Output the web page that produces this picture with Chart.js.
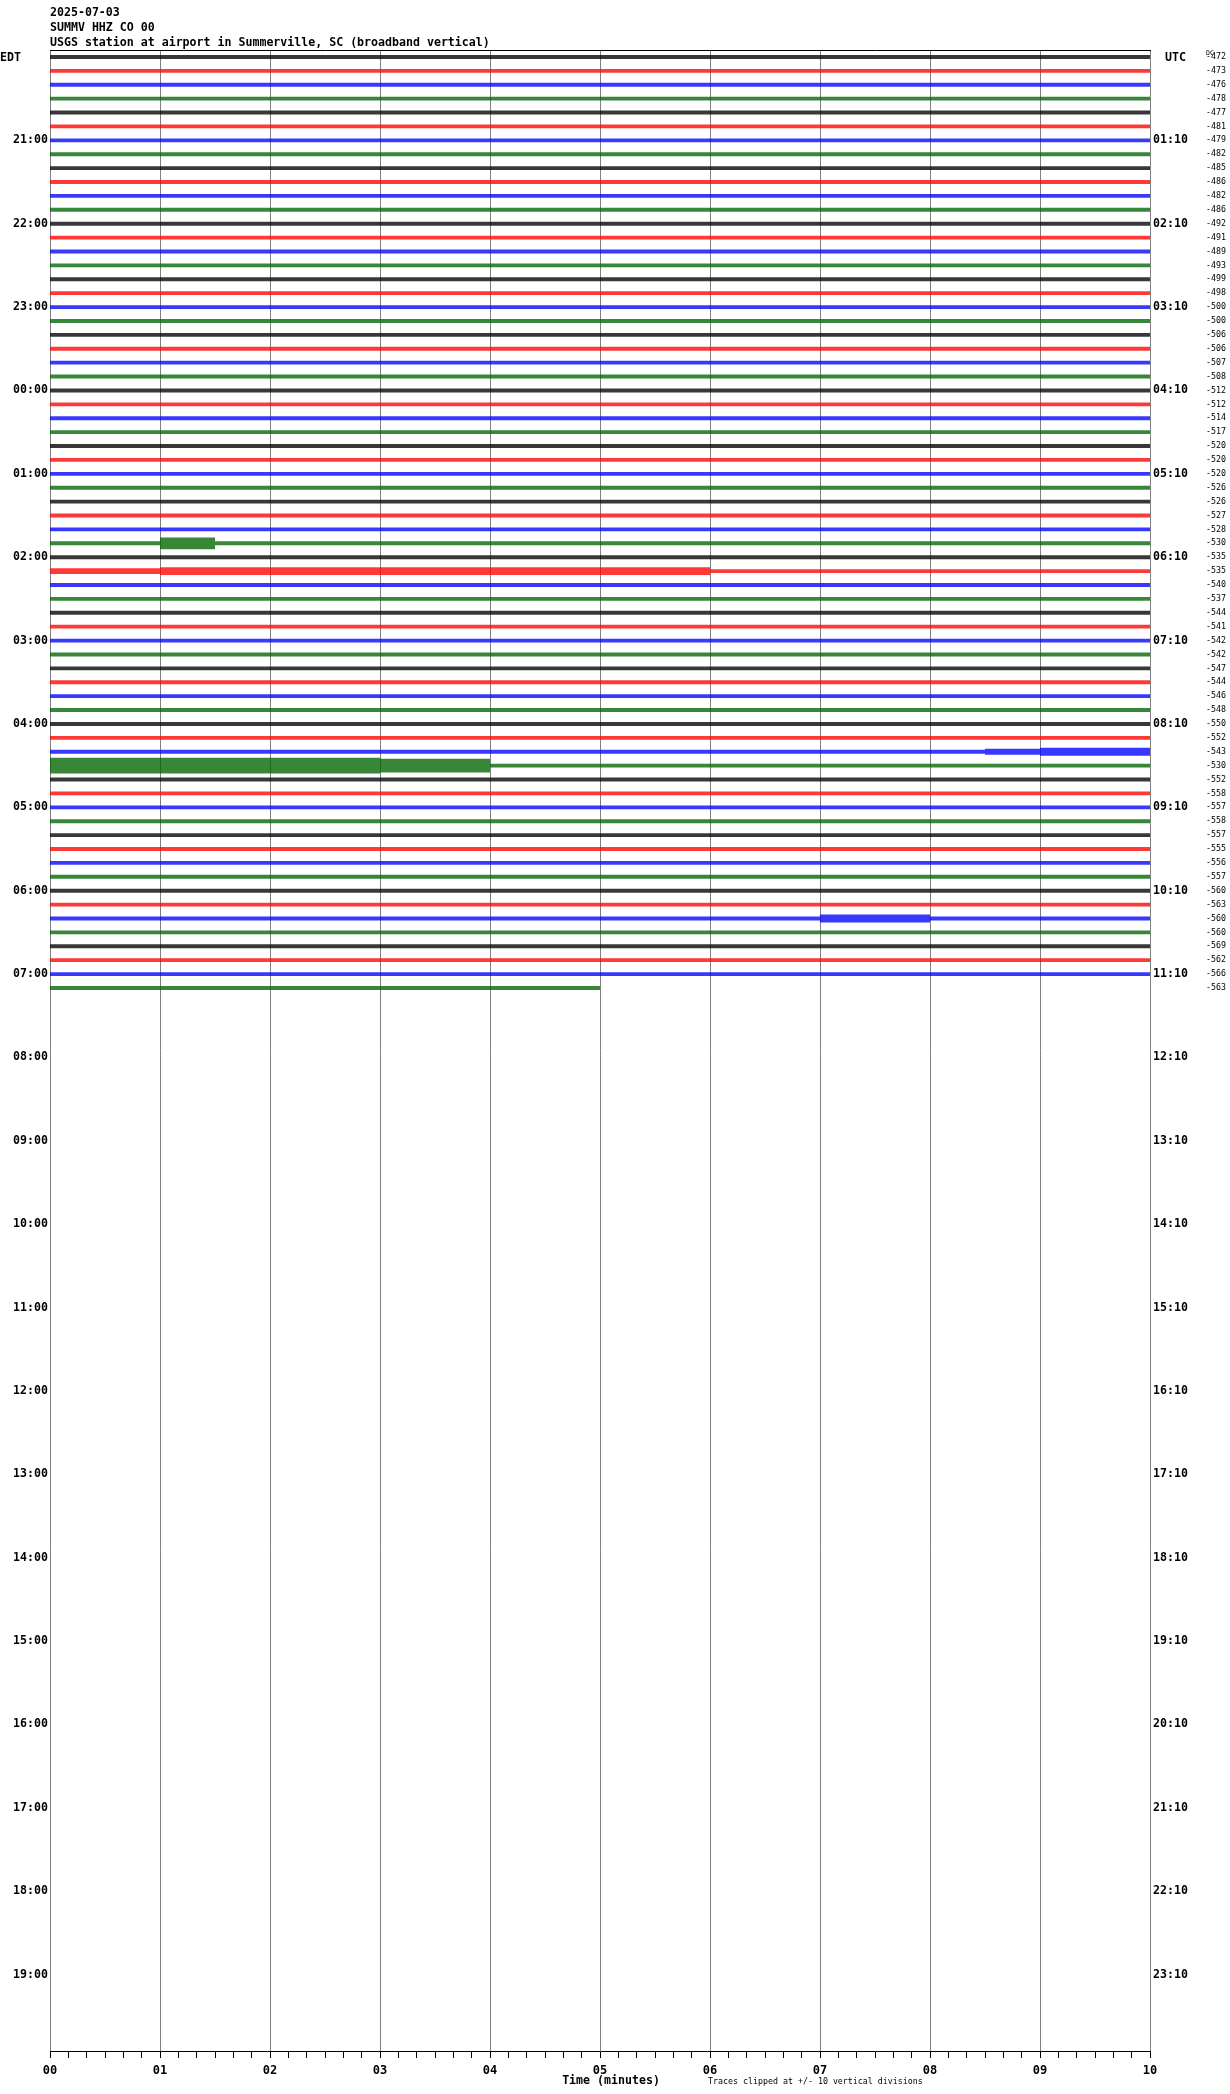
<!DOCTYPE html>
<html><head><meta charset="utf-8">
<script src="https://cdn.jsdelivr.net/npm/chart.js@4/dist/chart.umd.min.js"></script>
<style>html,body{margin:0;padding:0;background:#fff}canvas{display:block}</style>
</head><body>
<canvas id="c" width="1230" height="2094"></canvas>
<script>
const titleLines = ["2025-07-03", "SUMMV HHZ CO 00", "USGS station at airport in Summerville, SC (broadband vertical)"];
const minuteLabels = ["00","01","02","03","04","05","06","07","08","09","10"];
const edtLabels = ["EDT","21:00","22:00","23:00","00:00","01:00","02:00","03:00","04:00","05:00","06:00","07:00",
  "08:00","09:00","10:00","11:00","12:00","13:00","14:00","15:00","16:00","17:00","18:00","19:00"];
const utcLabels = ["UTC","01:10","02:10","03:10","04:10","05:10","06:10","07:10","08:10","09:10","10:10","11:10",
  "12:10","13:10","14:10","15:10","16:10","17:10","18:10","19:10","20:10","21:10","22:10","23:10"];
const dcHeader = "DC";
const dcValues = [-472,-473,-476,-478,-477,-481,-479,-482,-485,-486,-482,-486,-492,-491,-489,-493,-499,-498,-500,-500,
  -506,-506,-507,-508,-512,-512,-514,-517,-520,-520,-520,-526,-526,-527,
  -528,-530,-535,-535,-540,-537,-544,-541,-542,-542,-547,-544,-546,-548,-550,-552,-543,-530,-552,-558,-557,-558,
  -557,-555,-556,-557,-560,-563,-560,-560,-569,-562,-566,-563];
const traceColors = ["#000000","#ff0000","#0000ff","#006400"];
const bottomNote = "Traces clipped at +/- 10 vertical divisions";
const axisTitle = "Time (minutes)";
// trace amplitude envelope, one value per 30 s block (0..10 min), one row per 10-minute trace
const ampRows = [
[2,2,2,2,2,2,2,2,2,2,2,2,2,2,2,2,2,2,2,2,2],
[2,2,2,2,2,2,2,2,2,2,2,2,2,2,2,2,2,2,2,2,2],
[2,2,2,2,2,2,2,2,2,2,2,2,2,2,2,2,2,2,2,2,2],
[2,2,2,2,2,2,2,2,2,2,2,2,2,2,2,2,2,2,2,2,2],
[2,2,2,2,2,2,2,2,2,2,2,2,2,2,2,2,2,2,2,2,2],
[2,2,2,2,2,2,2,2,2,2,2,2,2,2,2,2,2,2,2,2,2],
[2,2,2,2,2,2,2,2,2,2,2,2,2,2,2,2,2,2,2,2,2],
[2,2,2,2,2,2,2,2,2,2,2,2,2,2,2,2,2,2,2,2,2],
[2,2,2,2,2,2,2,2,2,2,2,2,2,2,2,2,2,2,2,2,2],
[2,2,2,2,2,2,2,2,2,2,2,2,2,2,2,2,2,2,2,2,2],
[2,2,2,2,2,2,2,2,2,2,2,2,2,2,2,2,2,2,2,2,2],
[2,2,2,2,2,2,2,2,2,2,2,2,2,2,2,2,2,2,2,2,2],
[2,2,2,2,2,2,2,2,2,2,2,2,2,2,2,2,2,2,2,2,2],
[2,2,2,2,2,2,2,2,2,2,2,2,2,2,2,2,2,2,2,2,2],
[2,2,2,2,2,2,2,2,2,2,2,2,2,2,2,2,2,2,2,2,2],
[2,2,2,2,2,2,2,2,2,2,2,2,2,2,2,2,2,2,2,2,2],
[2,2,2,2,2,2,2,2,2,2,2,2,2,2,2,2,2,2,2,2,2],
[2,2,2,2,2,2,2,2,2,2,2,2,2,2,2,2,2,2,2,2,2],
[2,2,2,2,2,2,2,2,2,2,2,2,2,2,2,2,2,2,2,2,2],
[2,2,2,2,2,2,2,2,2,2,2,2,2,2,2,2,2,2,2,2,2],
[2,2,2,2,2,2,2,2,2,2,2,2,2,2,2,2,2,2,2,2,2],
[2,2,2,2,2,2,2,2,2,2,2,2,2,2,2,2,2,2,2,2,2],
[2,2,2,2,2,2,2,2,2,2,2,2,2,2,2,2,2,2,2,2,2],
[2,2,2,2,2,2,2,2,2,2,2,2,2,2,2,2,2,2,2,2,2],
[2,2,2,2,2,2,2,2,2,2,2,2,2,2,2,2,2,2,2,2,2],
[2,2,2,2,2,2,2,2,2,2,2,2,2,2,2,2,2,2,2,2,2],
[2,2,2,2,2,2,2,2,2,2,2,2,2,2,2,2,2,2,2,2,2],
[2,2,2,2,2,2,2,2,2,2,2,2,2,2,2,2,2,2,2,2,2],
[2,2,2,2,2,2,2,2,2,2,2,2,2,2,2,2,2,2,2,2,2],
[2,2,2,2,2,2,2,2,2,2,2,2,2,2,2,2,2,2,2,2,2],
[2,2,2,2,2,2,2,2,2,2,2,2,2,2,2,2,2,2,2,2,2],
[2,2,2,2,2,2,2,2,2,2,2,2,2,2,2,2,2,2,2,2,2],
[2,2,2,2,2,2,2,2,2,2,2,2,2,2,2,2,2,2,2,2,2],
[2,2,2,2,2,2,2,2,2,2,2,2,2,2,2,2,2,2,2,2,2],
[2,2,2,2,2,2,2,2,2,2,2,2,2,2,2,2,2,2,2,2,2],
[2,2,6,2,2,2,2,2,2,2,2,2,2,2,2,2,2,2,2,2,2],
[2,2,2,2,2,2,2,2,2,2,2,2,2,2,2,2,2,2,2,2,2],
[3,3,4,4,4,4,4,4,4,4,4,4,2,2,2,2,2,2,2,2,2],
[2,2,2,2,2,2,2,2,2,2,2,2,2,2,2,2,2,2,2,2,2],
[2,2,2,2,2,2,2,2,2,2,2,2,2,2,2,2,2,2,2,2,2],
[2,2,2,2,2,2,2,2,2,2,2,2,2,2,2,2,2,2,2,2,2],
[2,2,2,2,2,2,2,2,2,2,2,2,2,2,2,2,2,2,2,2,2],
[2,2,2,2,2,2,2,2,2,2,2,2,2,2,2,2,2,2,2,2,2],
[2,2,2,2,2,2,2,2,2,2,2,2,2,2,2,2,2,2,2,2,2],
[2,2,2,2,2,2,2,2,2,2,2,2,2,2,2,2,2,2,2,2,2],
[2,2,2,2,2,2,2,2,2,2,2,2,2,2,2,2,2,2,2,2,2],
[2,2,2,2,2,2,2,2,2,2,2,2,2,2,2,2,2,2,2,2,2],
[2,2,2,2,2,2,2,2,2,2,2,2,2,2,2,2,2,2,2,2,2],
[2,2,2,2,2,2,2,2,2,2,2,2,2,2,2,2,2,2,2,2,2],
[2,2,2,2,2,2,2,2,2,2,2,2,2,2,2,2,2,2,2,2,2],
[2,2,2,2,2,2,2,2,2,2,2,2,2,2,2,2,2,3,4,4,4],
[8,8,8,8,8,8,7,7,2,2,2,2,2,2,2,2,2,2,2,2,2],
[2,2,2,2,2,2,2,2,2,2,2,2,2,2,2,2,2,2,2,2,2],
[2,2,2,2,2,2,2,2,2,2,2,2,2,2,2,2,2,2,2,2,2],
[2,2,2,2,2,2,2,2,2,2,2,2,2,2,2,2,2,2,2,2,2],
[2,2,2,2,2,2,2,2,2,2,2,2,2,2,2,2,2,2,2,2,2],
[2,2,2,2,2,2,2,2,2,2,2,2,2,2,2,2,2,2,2,2,2],
[2,2,2,2,2,2,2,2,2,2,2,2,2,2,2,2,2,2,2,2,2],
[2,2,2,2,2,2,2,2,2,2,2,2,2,2,2,2,2,2,2,2,2],
[2,2,2,2,2,2,2,2,2,2,2,2,2,2,2,2,2,2,2,2,2],
[2,2,2,2,2,2,2,2,2,2,2,2,2,2,2,2,2,2,2,2,2],
[2,2,2,2,2,2,2,2,2,2,2,2,2,2,2,2,2,2,2,2,2],
[2,2,2,2,2,2,2,2,2,2,2,2,2,2,4,4,2,2,2,2,2],
[2,2,2,2,2,2,2,2,2,2,2,2,2,2,2,2,2,2,2,2,2],
[2,2,2,2,2,2,2,2,2,2,2,2,2,2,2,2,2,2,2,2,2],
[2,2,2,2,2,2,2,2,2,2,2,2,2,2,2,2,2,2,2,2,2],
[2,2,2,2,2,2,2,2,2,2,2,2,2,2,2,2,2,2,2,2,2],
[2,2,2,2,2,2,2,2,2,2,2]
];
const SAMPLE_SEC = 30;
const ROWS_PER_HOUR = 6;
const TOTAL_ROWS = 144;
const AMP_GAIN = 0.07;
const FILL_ALPHA = 0.78;

function rgba(hex, a) {
  const n = parseInt(hex.slice(1), 16);
  return `rgba(${(n >> 16) & 255},${(n >> 8) & 255},${n & 255},${a})`;
}

const datasets = [];
ampRows.forEach((row, r) => {
  const color = traceColors[r % traceColors.length];
  datasets.push({
    data: row.map((a, i) => ({ x: i * SAMPLE_SEC, y: r - a * AMP_GAIN })),
    borderColor: 'rgba(0,0,0,0)', backgroundColor: 'rgba(0,0,0,0)', fill: false, stepped: 'before'
  });
  datasets.push({
    data: row.map((a, i) => ({ x: i * SAMPLE_SEC, y: r + a * AMP_GAIN })),
    borderColor: 'rgba(0,0,0,0)', backgroundColor: rgba(color, FILL_ALPHA), fill: '-1', stepped: 'before'
  });
});

const MONO = '"DejaVu Sans Mono", "Liberation Mono", monospace';

const textPlugin = {
  id: 'heliText',
  afterDraw(chart) {
    const { ctx, chartArea: a, scales } = chart;
    ctx.save();
    ctx.fillStyle = '#000';
    ctx.textBaseline = 'middle';
    ctx.textAlign = 'left';
    ctx.font = 'bold 11.6px ' + MONO;
    titleLines.forEach((t, i) => ctx.fillText(t, a.left, a.top - 37.5 + i * 15));
    const y0 = scales.y.getPixelForValue(0);
    ctx.fillText(edtLabels[0], 0, y0 + 1);
    ctx.fillText(utcLabels[0], a.right + 15, y0 + 1);
    ctx.textAlign = 'center';
    ctx.fillText(axisTitle, (a.left + a.right) / 2 + 11, a.bottom + 30);
    ctx.textAlign = 'left';
    ctx.font = '8.3px ' + MONO;
    ctx.fillText(bottomNote, (a.left + a.right) / 2 + 108, a.bottom + 31);
    const dc = scales.yDc;
    ctx.font = '6.5px ' + MONO;
    ctx.fillText(dcHeader, dc.left + 6, a.top + 3);
    ctx.restore();
  }
};

const hiddenGrid = { display: false, drawTicks: false, tickLength: 0 };

new Chart(document.getElementById('c'), {
  type: 'line',
  data: { datasets },
  options: {
    responsive: false,
    animation: false,
    devicePixelRatio: 1,
    layout: { padding: { top: 50, left: 0, right: 0, bottom: 0 } },
    elements: { point: { radius: 0 }, line: { borderWidth: 0, tension: 0 } },
    plugins: { legend: { display: false }, tooltip: { enabled: false }, title: { display: false } },
    scales: {
      x: {
        type: 'linear', position: 'bottom', min: 0, max: 600,
        afterFit(s) { s.height = 43; },
        ticks: {
          stepSize: 10, autoSkip: false, maxRotation: 0, padding: 6, color: '#000',
          font: { family: MONO, size: 12, weight: 'bold' },
          callback: (v) => (v % 60 === 0 ? minuteLabels[v / 60] : '')
        },
        grid: {
          color: (c) => (c.tick && c.tick.value % 60 === 0 ? '#808080' : 'rgba(0,0,0,0)'),
          tickColor: '#000', tickLength: 7, lineWidth: 1
        },
        border: { color: '#000', width: 1 }
      },
      xTop: {
        type: 'linear', position: 'top', min: 0, max: 600,
        afterFit(s) { s.height = 0; },
        ticks: { display: false },
        grid: { drawOnChartArea: false, drawTicks: false, tickLength: 0 },
        border: { color: '#000', width: 1 }
      },
      y: {
        type: 'linear', position: 'left', min: -0.5, max: TOTAL_ROWS - 0.5, reverse: true,
        afterFit(s) { s.width = 50; },
        afterBuildTicks(s) { s.ticks = edtLabels.map((_, i) => ({ value: i * ROWS_PER_HOUR })); },
        ticks: {
          autoSkip: false, padding: 2, color: '#000',
          font: { family: MONO, size: 11.6, weight: 'bold' },
          callback: (v) => { const i = v / ROWS_PER_HOUR; return i === 0 ? '' : edtLabels[i]; }
        },
        grid: hiddenGrid,
        border: { display: false }
      },
      yUtc: {
        type: 'linear', position: 'right', weight: 0, min: -0.5, max: TOTAL_ROWS - 0.5, reverse: true,
        afterFit(s) { s.width = 50; },
        afterBuildTicks(s) { s.ticks = utcLabels.map((_, i) => ({ value: i * ROWS_PER_HOUR })); },
        ticks: {
          autoSkip: false, padding: 3, color: '#000',
          font: { family: MONO, size: 11.6, weight: 'bold' },
          callback: (v) => { const i = v / ROWS_PER_HOUR; return i === 0 ? '' : utcLabels[i]; }
        },
        grid: hiddenGrid,
        border: { display: false }
      },
      yDc: {
        type: 'linear', position: 'right', weight: 1, min: -0.5, max: TOTAL_ROWS - 0.5, reverse: true,
        afterFit(s) { s.width = 30; },
        afterBuildTicks(s) { s.ticks = dcValues.map((_, i) => ({ value: i })); },
        ticks: {
          autoSkip: false, padding: 6, color: '#000',
          font: { family: MONO, size: 8.3 },
          callback: (v) => String(dcValues[v])
        },
        grid: hiddenGrid,
        border: { display: false }
      }
    }
  },
  plugins: [textPlugin]
});
</script>
</body></html>
